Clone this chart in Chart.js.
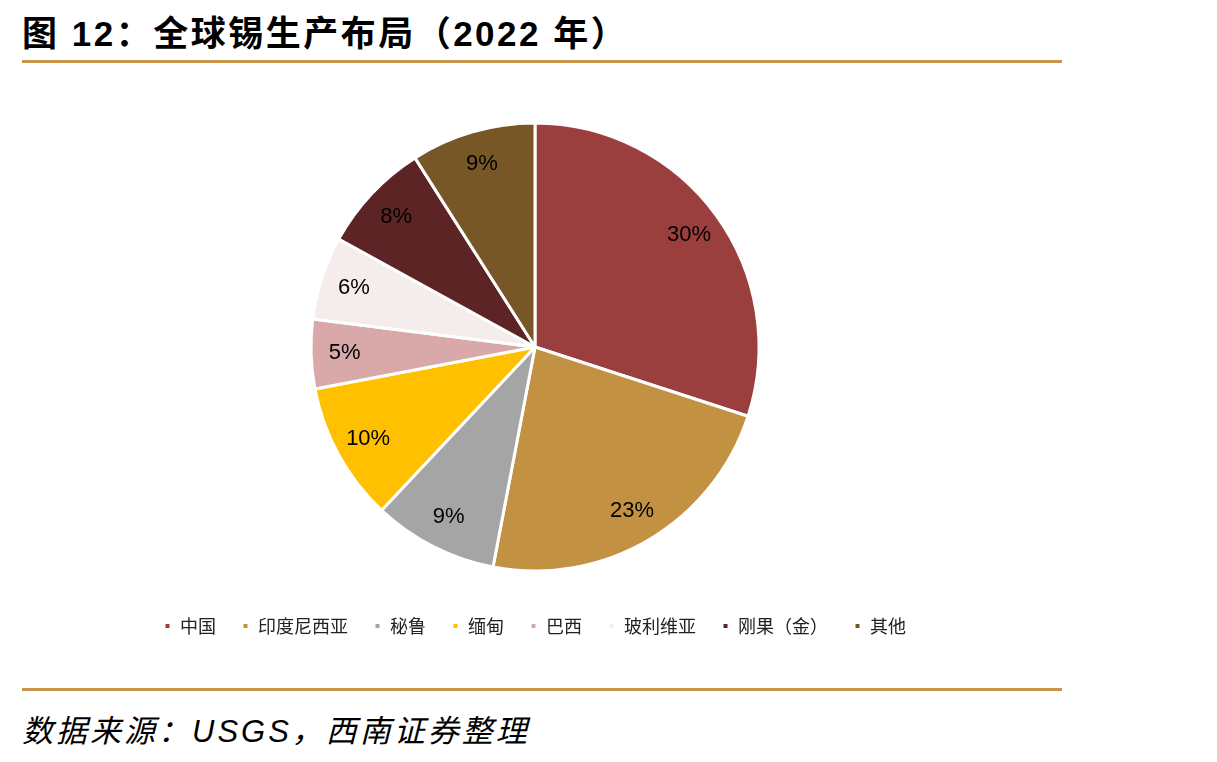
<!DOCTYPE html>
<html><head><meta charset="utf-8">
<script src="https://cdn.jsdelivr.net/npm/chart.js@4.4.0/dist/chart.umd.min.js"></script>
<style>
html,body{margin:0;padding:0;background:#fff;width:1217px;height:762px;overflow:hidden;position:relative;}
#title{position:absolute;left:22px;top:5px;font-family:"Liberation Sans","Noto Sans CJK SC",sans-serif;font-weight:bold;font-size:35px;color:#000;letter-spacing:2.5px;white-space:nowrap;}
.rule{position:absolute;left:22px;width:1040px;height:3px;background:#C8964A;}
#src{position:absolute;left:22px;top:706px;font-family:"Liberation Sans","Noto Sans CJK SC",sans-serif;font-style:italic;font-size:31px;color:#000;letter-spacing:3px;white-space:nowrap;}
#wrap{position:absolute;left:10px;top:103px;width:1050px;height:542px;}
</style></head>
<body>
<div id="title">图 12：全球锡生产布局（2022 年）</div>
<div class="rule" style="top:60px"></div>
<div id="wrap"><canvas id="c"></canvas></div>
<div class="rule" style="top:688px"></div>
<div id="src">数据来源：USGS，西南证券整理</div>
<script>
const categories = ["中国","印度尼西亚","秘鲁","缅甸","巴西","玻利维亚","刚果（金）","其他"];
const shares = [30,23,9,10,5,6,8,9];
const colors = ["#9B3F3E","#C39142","#A5A5A5","#FFC000","#D9A8A8","#F5EDEB","#5C2424","#785726"];

const labelPlugin = {
  id:'sliceLabels',
  afterDatasetsDraw(chart){
    const ctx = chart.ctx;
    const meta = chart.getDatasetMeta(0);
    ctx.save();
    ctx.font = '22px "Liberation Sans", Arial, sans-serif';
    ctx.fillStyle = '#000';
    ctx.textAlign = 'center';
    ctx.textBaseline = 'middle';
    meta.data.forEach((arc,i)=>{
      const p = arc.getProps(['x','y','startAngle','endAngle','outerRadius'],true);
      const a = (p.startAngle+p.endAngle)/2;
      const r = p.outerRadius*0.85;
      ctx.fillText(shares[i]+'%', p.x+Math.cos(a)*r, p.y+Math.sin(a)*r);
    });
    ctx.restore();
  }
};

new Chart(document.getElementById('c'),{
  type:'pie',
  data:{labels:categories,datasets:[{data:shares,backgroundColor:colors,borderColor:'#fff',borderWidth:3,hoverOffset:0}]},
  options:{
    responsive:true,maintainAspectRatio:false,animation:false,
    radius:224,
    layout:{padding:{top:0,bottom:0}},
    plugins:{
      tooltip:{enabled:false},
      legend:{position:'bottom',
        labels:{boxWidth:7,boxHeight:7,padding:26,color:'#222',
          font:{family:'"Noto Sans CJK SC", sans-serif',size:18}}}
    }
  },
  plugins:[labelPlugin]
});
</script>
</body></html>
